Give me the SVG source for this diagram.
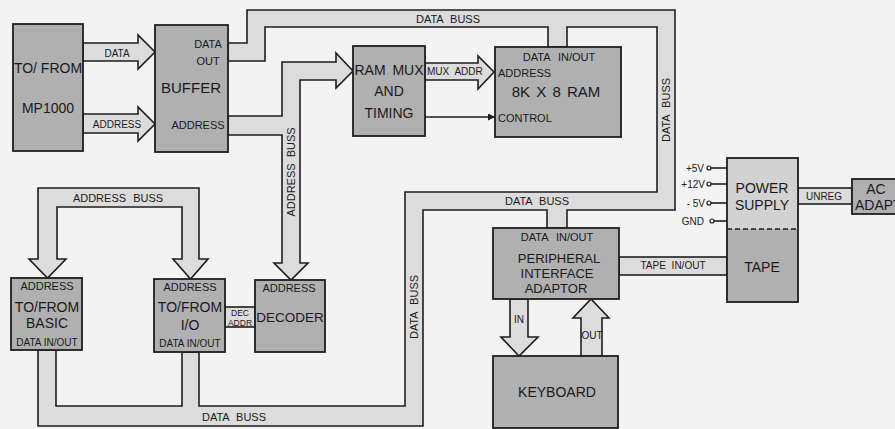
<svg xmlns="http://www.w3.org/2000/svg" width="895" height="429" viewBox="0 0 895 429">
<style>
.box{fill:#b0b0b0;stroke:#1e1e1e;stroke-width:1.8}
.bus{fill:#dcdcdc;stroke:#1e1e1e;stroke-width:1.6;stroke-linejoin:miter}
.ln{fill:none;stroke:#1e1e1e;stroke-width:1.6}
text{font-family:"Liberation Sans","DejaVu Sans",Arial,sans-serif;fill:#1a1a1a}
.t{font-size:14px;text-anchor:middle}
.s{font-size:11px;text-anchor:middle}
.xs{font-size:10px;text-anchor:middle}
.l{font-size:11px;text-anchor:start}
.r{font-size:10px;text-anchor:end}
</style>
<defs>
<marker id="ah" viewBox="0 0 10 10" refX="10" refY="5" markerWidth="10" markerHeight="7" markerUnits="userSpaceOnUse" orient="auto"><path d="M0,0 L10,5 L0,10 z" fill="#1e1e1e"/></marker>
</defs>
<rect x="0" y="0" width="895" height="429" fill="#f3f3f3"/>

<g id="connectors">
<polygon class="bus" points="83,43 138,43 138,35 155,52 138,69 138,61 83,61"/>
<text class="xs" x="117" y="57">DATA</text>
<polygon class="bus" points="83,114 138,114 138,107 155,124 138,141 138,133 83,133"/>
<text class="xs" x="117" y="128">ADDRESS</text>
<polygon class="bus" points="228,116 282,116 282,62 336,62 336,53 353,71 336,88 336,80 300,80 300,263 308,263 291,280 274,263 282,263 282,135 228,135"/>
<text class="s" transform="translate(291,172) rotate(-90)" x="0" y="4" word-spacing="3">ADDRESS BUSS</text>
<polygon class="bus" points="228,43 247,43 247,10 675,10 675,210 567,210 567,228 547,228 547,210 423,210 423,426 38,426 38,350 56,350 56,406 182,406 182,352 199,352 199,406 405,406 405,192 657,192 657,27 567,27 567,47 548,47 548,27 265,27 265,61 228,61"/>
<text class="s" x="448" y="23" word-spacing="4">DATA BUSS</text>
<text class="s" transform="translate(666,110) rotate(-90)" x="0" y="4" word-spacing="4">DATA BUSS</text>
<text class="s" x="537" y="205" word-spacing="4">DATA BUSS</text>
<text class="s" transform="translate(414,307) rotate(-90)" x="0" y="4" word-spacing="4">DATA BUSS</text>
<text class="s" x="234" y="421" word-spacing="4">DATA BUSS</text>
<polygon class="bus" points="38,259 38,188 199,188 199,259 208,259 190.5,279 173,259 182,259 182,207 57,207 57,259 66,259 47.5,278 29,259"/>
<text class="s" x="118" y="202" word-spacing="4">ADDRESS BUSS</text>
<rect class="bus" x="225" y="307" width="30" height="20"/>
<text x="240" y="316" style="font-size:8.5px;text-anchor:middle">DEC</text>
<text x="240" y="326" style="font-size:8.5px;text-anchor:middle">ADDR</text>
<polygon class="bus" points="425,63 478,63 478,56 494,72 478,89 478,80 425,80"/>
<text x="427" y="75" style="font-size:10px" word-spacing="3">MUX ADDR</text>
<line class="ln" x1="425" y1="117" x2="495" y2="117" marker-end="url(#ah)"/>
<polygon class="bus" points="510,299 510,337 501,337 519,356 538,337 528,337 528,299"/>
<text class="xs" x="519" y="323">IN</text>
<polygon class="bus" points="581,356 581,318 573,318 591,299 609,318 602,318 602,356"/>
<text class="xs" x="592" y="339">OUT</text>
<rect class="bus" x="619" y="257" width="108" height="18"/>
<text class="xs" x="673" y="269" word-spacing="3">TAPE IN/OUT</text>
<rect class="bus" x="798" y="188" width="54" height="16"/>
<text class="xs" x="824" y="200">UNREG</text>
<g class="ln">
<line x1="711" y1="168" x2="727" y2="168"/>
<line x1="711" y1="184" x2="727" y2="184"/>
<line x1="711" y1="203" x2="727" y2="203"/>
<line x1="714" y1="221" x2="727" y2="221"/>
</g>
<g fill="#f3f3f3" stroke="#1e1e1e" stroke-width="1.2">
<circle cx="709" cy="168" r="2"/>
<circle cx="709" cy="184" r="2"/>
<circle cx="709" cy="203" r="2"/>
<circle cx="712" cy="221" r="2"/>
</g>
<text class="r" x="704" y="172">+5V</text>
<text class="r" x="705" y="188">+12V</text>
<text class="r" x="705" y="207">- 5V</text>
<text class="r" x="704" y="225">GND</text>
</g>

<g id="mp1000">
<rect class="box" x="13" y="24" width="70" height="127"/>
<text class="t" x="48" y="73">TO/ FROM</text>
<text class="t" x="48" y="113">MP1000</text>
</g>
<g id="buffer">
<rect class="box" x="155" y="25" width="73" height="127"/>
<text class="s" x="208" y="48">DATA</text>
<text class="s" x="208" y="65">OUT</text>
<text x="191" y="93" style="font-size:15px;text-anchor:middle">BUFFER</text>
<text class="s" x="198" y="129">ADDRESS</text>
</g>
<g id="rammux">
<rect class="box" x="353" y="46" width="72" height="90"/>
<text class="t" x="389" y="75" word-spacing="3">RAM MUX</text>
<text class="t" x="389" y="96">AND</text>
<text class="t" x="389" y="118">TIMING</text>
</g>
<g id="ram">
<rect class="box" x="495" y="47" width="126" height="90"/>
<text class="s" x="559" y="61" word-spacing="5">DATA IN/OUT</text>
<text class="l" x="498" y="77">ADDRESS</text>
<text x="556" y="97" style="font-size:15px;text-anchor:middle" word-spacing="2">8K X 8 RAM</text>
<text class="l" x="498" y="122">CONTROL</text>
</g>
<g id="basic">
<rect class="box" x="11" y="278" width="71" height="72"/>
<text class="s" x="47" y="290">ADDRESS</text>
<text class="t" x="47" y="312">TO/FROM</text>
<text class="t" x="47" y="328">BASIC</text>
<text class="xs" x="47" y="346">DATA IN/OUT</text>
</g>
<g id="io">
<rect class="box" x="154" y="279" width="71" height="73"/>
<text class="s" x="190" y="291">ADDRESS</text>
<text class="t" x="190" y="312">TO/FROM</text>
<text class="t" x="190" y="330">I/O</text>
<text class="xs" x="190" y="347">DATA IN/OUT</text>
</g>
<g id="decoder">
<rect class="box" x="255" y="280" width="70" height="72"/>
<text class="s" x="289" y="292">ADDRESS</text>
<text x="290" y="322" style="font-size:13.5px;text-anchor:middle">DECODER</text>
</g>
<g id="pia">
<rect class="box" x="493" y="228" width="126" height="71"/>
<text class="s" x="557" y="241" word-spacing="5">DATA IN/OUT</text>
<text x="559" y="263" style="font-size:13px;text-anchor:middle">PERIPHERAL</text>
<text x="557" y="278" style="font-size:13px;text-anchor:middle">INTERFACE</text>
<text x="556" y="293" style="font-size:13px;text-anchor:middle">ADAPTOR</text>
</g>
<g id="keyboard">
<rect class="box" x="493" y="356" width="125" height="72"/>
<text class="t" x="557" y="397">KEYBOARD</text>
</g>
<g id="powersupply">
<rect x="727" y="158" width="71" height="71" fill="#d2d2d2"/>
<rect x="727" y="229" width="71" height="73" fill="#b0b0b0"/>
<rect x="727" y="158" width="71" height="144" fill="none" stroke="#1e1e1e" stroke-width="1.8"/>
<line x1="727" y1="229" x2="798" y2="229" stroke="#1e1e1e" stroke-width="1.4" stroke-dasharray="5,3"/>
<text class="t" x="762" y="193">POWER</text>
<text class="t" x="762" y="210">SUPPLY</text>
<text class="t" x="762" y="272">TAPE</text>
</g>
<g id="acadaptor">
<rect class="box" x="852" y="179" width="50" height="35"/>
<text class="t" x="876" y="194">AC</text>
<text x="855" y="210" style="font-size:14px">ADAPTOR</text>
</g>
</svg>
